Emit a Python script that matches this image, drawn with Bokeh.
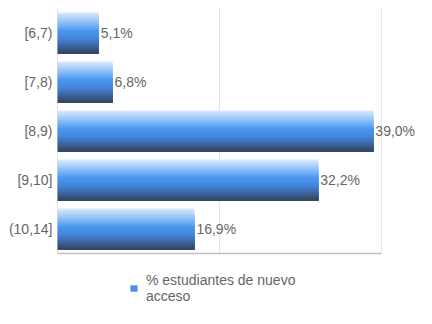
from bokeh.plotting import figure
from bokeh.models import Range1d, Legend, LegendItem, ColumnDataSource, FixedTicker
from bokeh.core.properties import value
from bokeh.transform import dodge
from bokeh.embed import file_html
from bokeh.resources import INLINE

categories = ["[6,7)", "[7,8)", "[8,9)", "[9,10]", "(10,14]"]
values = [5.1, 6.8, 39.0, 32.2, 16.9]
value_labels = ["5,1%", "6,8%", "39,0%", "32,2%", "16,9%"]
series_name = "% estudiantes de nuevo\nacceso"
x_ticks = [20, 40]
x_axis_max = 40
x_view_max = 46.3      # room on the right for the value labels
y_view = (5.949, -0.663)  # bottom, top (category 0 at the top); room below for the legend

FONT = "Liberation Sans"
TXT = "#666666"

ypos = list(range(len(categories)))
n = len(categories)
src = ColumnDataSource(dict(y=ypos, val=values, lab=value_labels))

p = figure(width=432, height=324,
           y_range=Range1d(*y_view), x_range=Range1d(0, x_view_max),
           output_backend="svg", toolbar_location=None,
           min_border_left=57, min_border_right=0, min_border_top=0, min_border_bottom=0)

# grid lines limited to the bar area (drawn first, behind bars)
p.segment(x0=x_ticks, x1=x_ticks, y0=[-0.5] * len(x_ticks), y1=[n - 0.5] * len(x_ticks),
          line_color="#e6e6e6", line_width=1)

# vertical gradient (top light -> blue -> dark) simulated with strips
stops = [(0.0, (220, 235, 253)), (0.2, (155, 199, 249)), (0.45, (74, 150, 240)),
         (0.62, (68, 136, 222)), (0.82, (60, 100, 160)), (1.0, (52, 66, 86))]

def grad(t):
    for (t0, c0), (t1, c1) in zip(stops[:-1], stops[1:]):
        if t0 <= t <= t1:
            f = (t - t0) / (t1 - t0)
            return "#%02x%02x%02x" % tuple(int(round(a + (b - a) * f)) for a, b in zip(c0, c1))
    return "#%02x%02x%02x" % stops[-1][1]

N = 30
bar_h = 0.84
lo = bar_h / 2   # bottom edge offset (y axis reversed)
mid_r = None
for i in range(N):
    top_i = -bar_h / 2 + i * bar_h / N
    center = (top_i + lo) / 2
    h = lo - top_i
    col = grad((i + 0.5) / N)
    r = p.hbar(y=dodge("y", center), left=0, right="val", height=h,
               source=src, fill_color=col, line_color=None)
    if i == int(N * 0.5):
        mid_r = r

# axis lines
p.segment(x0=[0], x1=[x_axis_max], y0=[n - 0.5], y1=[n - 0.5],
          line_color="#c0c0c0", line_width=1.5)
p.segment(x0=[0], x1=[0], y0=[-0.5], y1=[n - 0.5], line_color="#cccccc", line_width=1)

p.text(x="val", y="y", text="lab", source=src, x_offset=2,
       text_baseline="middle", text_font_size="14px", text_color=TXT,
       text_font=value(FONT))

p.yaxis.ticker = FixedTicker(ticks=ypos)
p.yaxis.major_label_overrides = {i: c for i, c in zip(ypos, categories)}
p.yaxis.axis_line_color = None
p.yaxis.major_tick_line_color = None
p.yaxis.minor_tick_line_color = None
p.yaxis.major_tick_out = 0
p.yaxis.major_tick_in = 0
p.yaxis.major_label_standoff = 5
p.yaxis.major_label_text_font_size = "14px"
p.yaxis.major_label_text_color = TXT
p.yaxis.major_label_text_font = FONT

p.xaxis.visible = False
p.xgrid.grid_line_color = None
p.ygrid.grid_line_color = None
p.outline_line_color = None

legend = Legend(items=[LegendItem(label=series_name, renderers=[mid_r])],
                location=(72, 20), border_line_color=None, background_fill_alpha=0,
                padding=0, margin=0, glyph_width=9, glyph_height=8, label_standoff=8,
                label_text_font_size="14px", label_text_color=TXT, label_text_font=FONT)
p.add_layout(legend)

open("out.html", "w").write(file_html(p, INLINE))
